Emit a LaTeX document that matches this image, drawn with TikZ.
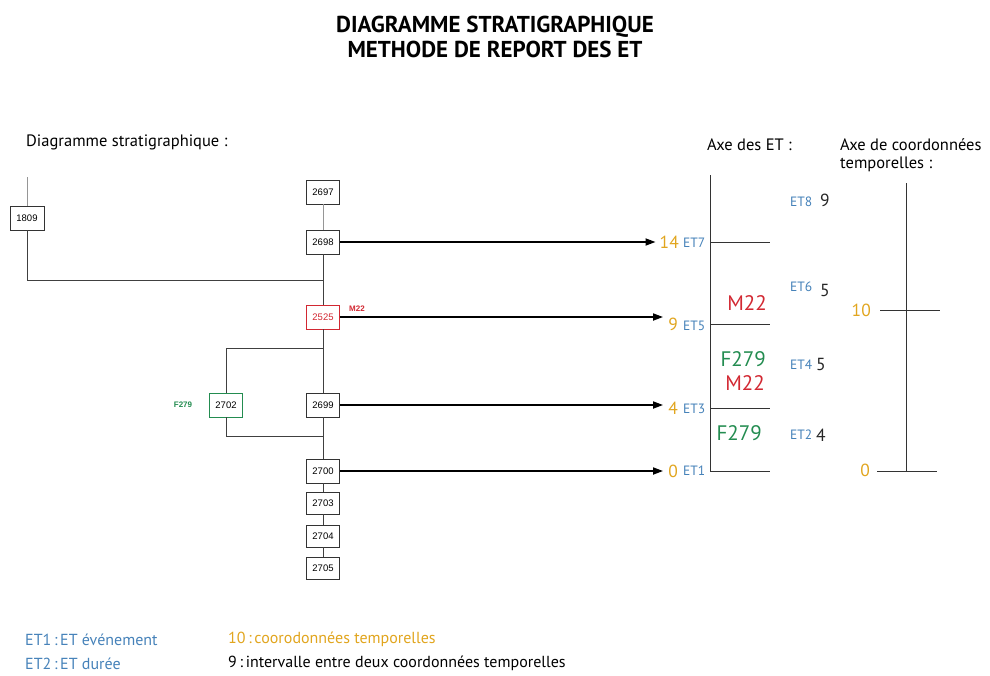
\documentclass[tikz,border=0pt]{standalone}
\usepackage{fontspec}
\setmainfont{PT Sans}
\newfontfamily\boxfont{Liberation Sans}
\usetikzlibrary{arrows.meta}
\definecolor{etblue}{RGB}{70,130,185}
\definecolor{tcorange}{RGB}{225,165,30}
\definecolor{mred}{RGB}{210,40,50}
\definecolor{fgreen}{RGB}{35,140,80}
\definecolor{lgray}{RGB}{150,150,150}
\tikzset{
  usbox/.style={draw=black!80, line width=0.9pt, minimum width=33pt, minimum height=24pt, inner sep=0pt, font=\boxfont\fontsize{9.5}{10}\selectfont},
  link/.style={draw=black!75, line width=0.9pt},
  glink/.style={draw=lgray, line width=0.8pt},
  report/.style={draw=black, line width=1.7pt, -{Triangle[length=10pt,width=7pt]}},
  axis/.style={draw=black!80, line width=1pt},
  etlab/.style={text=etblue, font=\fontsize{13.5}{15}\selectfont, inner sep=0pt},
  tclab/.style={text=tcorange, font=\fontsize{17.5}{19}\selectfont, inner sep=0pt},
  ivlab/.style={text=black!85, font=\fontsize{17.5}{19}\selectfont, inner sep=0pt},
  uslab/.style={font=\fontsize{21}{23}\selectfont, inner sep=0pt},
  small/.style={font=\boxfont\bfseries\fontsize{8}{9}\selectfont, inner sep=0pt},
  txt/.style={font=\fontsize{16.5}{18}\selectfont, inner sep=0pt, anchor=west},
  legtxt/.style={font=\fontsize{16}{18}\selectfont, inner sep=0pt, anchor=west},
}
\begin{document}
\begin{tikzpicture}[x=1pt,y=-1pt]
\useasboundingbox (0,0) rectangle (990,675);
% title
\node[font=\bfseries\fontsize{23}{25}\selectfont, align=center] (title) at (495,37) {DIAGRAMME STRATIGRAPHIQUE\\METHODE DE REPORT DES ET};
\node[txt] (lab1) at (26,142) {Diagramme stratigraphique :};
\node[txt] (lab2) at (707,145) {Axe des ET :};
\node[txt, align=left, anchor=west] (lab3) at (840,155) {Axe de coordonnées\\temporelles :};

% stratigraphic units
\node[usbox, minimum width=34pt] (u1809) at (27,218) {1809};
\node[usbox] (u2697) at (323,192) {2697};
\node[usbox] (u2698) at (323,242) {2698};
\node[usbox, draw=mred, text=mred] (u2525) at (323,317) {2525};
\node[usbox] (u2699) at (323,405) {2699};
\node[usbox, draw=fgreen] (u2702) at (226,405) {2702};
\node[usbox] (u2700) at (323,471) {2700};
\node[usbox, minimum height=22pt] (u2703) at (323,503) {2703};
\node[usbox, minimum height=22pt] (u2704) at (323,536) {2704};
\node[usbox, minimum height=22pt] (u2705) at (323,568) {2705};
\node[small, text=mred] (m22s) at (357,309) {M22};
\node[small, text=fgreen] (f279s) at (183,405) {F279};
\coordinate (top1809) at (27,177);
\coordinate (j1) at (27,280);
\coordinate (j2) at (323,280);
\coordinate (j3) at (323,348);
\coordinate (j4) at (226,348);
\coordinate (j5) at (226,436);
\coordinate (j6) at (323,436);

\draw[glink] (top1809) -- (u1809.north);
\draw[glink] (u2697.south) -- (u2698.north);
\draw[link] (u1809.south) -- (j1) -- (j2);
\draw[link] (u2698.south) -- (u2525.north);
\draw[link] (u2525.south) -- (u2699.north);
\draw[link] (j3) -- (j4) -- (u2702.north);
\draw[link] (u2702.south) -- (j5) -- (j6);
\draw[link] (u2699.south) -- (u2700.north);
\draw[link] (u2700.south) -- (u2703.north);
\draw[link] (u2703.south) -- (u2704.north);
\draw[link] (u2704.south) -- (u2705.north);

% ET axis
\coordinate (etTop) at (710,175);
\coordinate (etBot) at (710,471);
\draw[axis] (etTop) -- (etBot);
\foreach \y/\n in {242/a,324/b,408/c,471/d}{
  \coordinate (t\n) at (710,\y);
  \coordinate (t\n e) at (770,\y);
  \draw[axis] (t\n) -- (t\n e);
}
\node[tclab, anchor=east] (c14) at (679,242) {14};
\node[etlab, anchor=west] (et7) at (683,243) {ET7};
\node[tclab, anchor=east] (c9) at (678,324) {9};
\node[etlab, anchor=west] (et5) at (683,326) {ET5};
\node[tclab, anchor=east] (c4) at (678,408) {4};
\node[etlab, anchor=west] (et3) at (683,409) {ET3};
\node[tclab, anchor=east] (c0) at (678,471) {0};
\node[etlab, anchor=west] (et1) at (683,471) {ET1};

\draw[report] (u2698.east) -- ([xshift=-4pt]c14.west |- u2698.east);
\draw[report] (u2525.east) -- ([xshift=-5pt]c9.west |- u2525.east);
\draw[report] (u2699.east) -- ([xshift=-5pt]c4.west |- u2699.east);
\draw[report] (u2700.east) -- ([xshift=-5pt]c0.west |- u2700.east);

\node[uslab, text=mred, anchor=east] (m22a) at (767,303) {M22};
\node[uslab, text=fgreen, anchor=east] (f279a) at (766,359) {F279};
\node[uslab, text=mred, anchor=east] (m22b) at (765,383) {M22};
\node[uslab, text=fgreen, anchor=east] (f279b) at (762,433) {F279};

\node[etlab, anchor=west] (et8) at (790,202) {ET8};
\node[ivlab, anchor=west] (i9) at (820,200) {9};
\node[etlab, anchor=west] (et6) at (790,287) {ET6};
\node[ivlab, anchor=west] (i5a) at (820,290) {5};
\node[etlab, anchor=west] (et4) at (790,365) {ET4};
\node[ivlab, anchor=west] (i5b) at (816,364) {5};
\node[etlab, anchor=west] (et2) at (790,435) {ET2};
\node[ivlab, anchor=west] (i4) at (816,435) {4};

% coordinate axis
\coordinate (caTop) at (906,183);
\coordinate (caBot) at (906,471);
\draw[axis] (caTop) -- (caBot);
\coordinate (k1a) at (880,310); \coordinate (k1b) at (940,310);
\coordinate (k2a) at (877,471); \coordinate (k2b) at (937,471);
\draw[axis] (k1a) -- (k1b);
\draw[axis] (k2a) -- (k2b);
\node[tclab, anchor=east] (c10) at (871,310) {10};
\node[tclab, anchor=east] (cc0) at (870,470) {0};

% legend
\node[legtxt, text=etblue] (leg1) at (25,640) {ET1\,:\,ET événement};
\node[legtxt, text=etblue] (leg2) at (25,664) {ET2\,:\,ET durée};
\node[legtxt, text=tcorange] (leg3) at (228,639) {10\,:\,coorodonnées temporelles};
\node[legtxt, text=black] (leg4) at (228,663) {9\,:\,intervalle entre deux coordonnées temporelles};
\end{tikzpicture}
\end{document}
